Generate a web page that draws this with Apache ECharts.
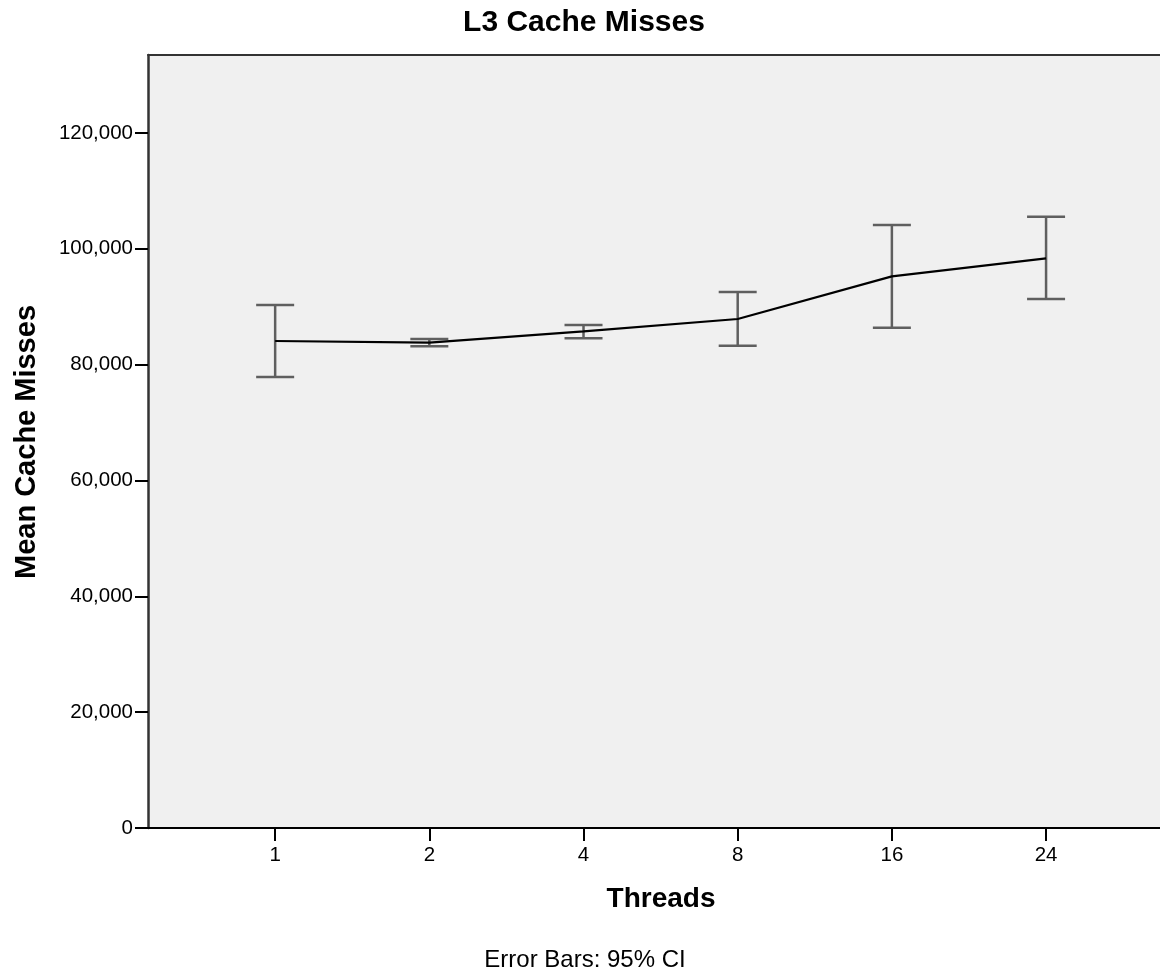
<!DOCTYPE html>
<html>
<head>
<meta charset="utf-8">
<title>L3 Cache Misses</title>
<script src="https://cdn.jsdelivr.net/npm/echarts@6/dist/echarts.min.js"></script>
<style>
  html, body { margin: 0; padding: 0; background: #fff; }
  #chart { width: 1160px; height: 972px; }
</style>
</head>
<body>
<div id="chart"></div>
<script>
// Thread counts (category labels along the x axis)
const threads = ['1', '2', '4', '8', '16', '24'];
// Mean L3 cache misses per thread count
const meanMisses = [84086, 83793, 85760, 87885, 95256, 98364];
// 95% confidence interval bounds
const ciLower = [77870, 83172, 84553, 83275, 86385, 91337];
const ciUpper = [90302, 84432, 86848, 92546, 104116, 105548];
// Y axis tick values
const yTicks = [0, 20000, 40000, 60000, 80000, 100000, 120000];

const FONT = '"Liberation Sans", Arial, Helvetica, sans-serif';
const positions = threads.map((_, i) => i + 1);

const lineData = positions.map((p, i) => [p, meanMisses[i]]);
const errData = positions.map((p, i) => [p, ciLower[i], ciUpper[i]]);

const chart = echarts.init(document.getElementById('chart'), null, { renderer: 'canvas' });

// The plot frame runs off the right edge of the page, so the x range is
// cut where the page ends.
const X_MIN = 0.1753;
const X_MAX = 6.739;

chart.setOption({
  animation: false,
  backgroundColor: '#ffffff',
  grid: {
    left: 148, top: 55, right: 0, height: 773,
    show: true, backgroundColor: '#f0f0f0',
    borderWidth: 0
  },
  graphic: [
    { type: 'text', x: 584, y: 23, style: {
        text: 'L3 Cache Misses', textAlign: 'center', textVerticalAlign: 'middle',
        font: 'bold 30px ' + FONT, fill: '#000' } },
    { type: 'text', x: 27, y: 442, rotation: Math.PI / 2, style: {
        text: 'Mean Cache Misses', textAlign: 'center', textVerticalAlign: 'middle',
        font: 'bold 29px ' + FONT, fill: '#000' } },
    { type: 'text', x: 661, y: 899, style: {
        text: 'Threads', textAlign: 'center', textVerticalAlign: 'middle',
        font: 'bold 28px ' + FONT, fill: '#000' } },
    { type: 'text', x: 585, y: 960, style: {
        text: 'Error Bars: 95% CI', textAlign: 'center', textVerticalAlign: 'middle',
        font: '24px ' + FONT, fill: '#000' } }
  ],
  xAxis: [
    {
      type: 'value',
      min: X_MIN, max: X_MAX,
      splitLine: { show: false },
      axisLine: { show: true, onZero: false, lineStyle: { color: '#000', width: 2 } },
      axisTick: { show: true, customValues: positions, length: 13, lineStyle: { color: '#000', width: 2 } },
      axisLabel: {
        customValues: positions, margin: 17,
        formatter: v => threads[Math.round(v) - 1],
        fontFamily: FONT, fontSize: 20.5, color: '#000'
      }
    },
    {
      // top edge of the frame
      type: 'value', position: 'top',
      min: X_MIN, max: X_MAX,
      splitLine: { show: false },
      axisLine: { show: true, onZero: false, lineStyle: { color: '#333', width: 2 } },
      axisTick: { show: false },
      axisLabel: { show: false }
    }
  ],
  yAxis: {
    type: 'value',
    min: 0, max: 133470,
    splitLine: { show: false },
    axisLine: { show: true, lineStyle: { color: '#333', width: 2.5 } },
    axisTick: { show: true, customValues: yTicks, length: 13, lineStyle: { color: '#000', width: 2 } },
    axisLabel: {
      customValues: yTicks, margin: 15,
      formatter: v => v.toLocaleString('en-US'),
      fontFamily: FONT, fontSize: 20.5, color: '#000'
    }
  },
  series: [
    {
      type: 'custom',
      z: 2,
      xAxisIndex: 0,
      data: errData,
      renderItem: (params, api) => {
        const x = api.value(0);
        const lo = api.coord([x, api.value(1)]);
        const hi = api.coord([x, api.value(2)]);
        const half = 19;
        const style = { stroke: '#5f5f5f', lineWidth: 2.5 };
        return {
          type: 'group',
          children: [
            { type: 'line', shape: { x1: lo[0], y1: lo[1], x2: hi[0], y2: hi[1] }, style },
            { type: 'line', shape: { x1: hi[0] - half, y1: hi[1], x2: hi[0] + half, y2: hi[1] }, style },
            { type: 'line', shape: { x1: lo[0] - half, y1: lo[1], x2: lo[0] + half, y2: lo[1] }, style }
          ]
        };
      }
    },
    {
      type: 'line',
      z: 3,
      xAxisIndex: 0,
      data: lineData,
      symbol: 'none',
      lineStyle: { color: '#000', width: 2.2 }
    }
  ]
});
</script>
</body>
</html>
